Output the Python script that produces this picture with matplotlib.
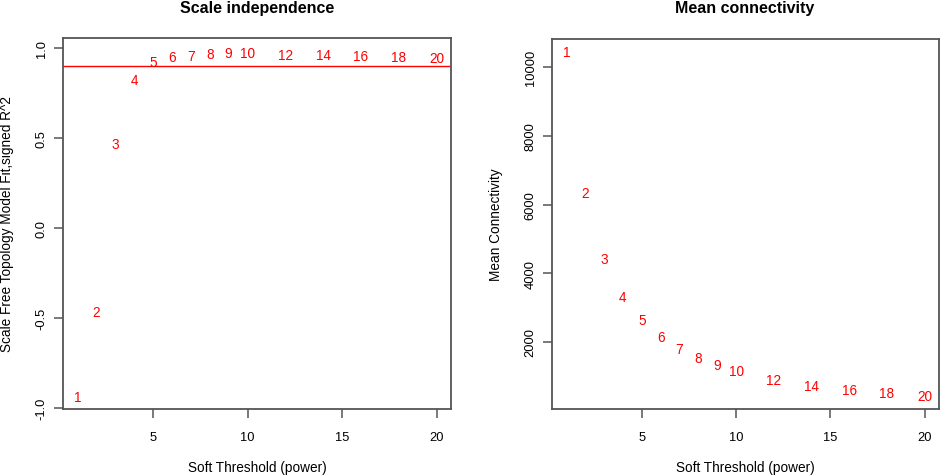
import matplotlib
matplotlib.use("Agg")
import matplotlib.pyplot as plt

plt.rcParams['font.family'] = ['Liberation Sans', 'DejaVu Sans']

powers = [1, 2, 3, 4, 5, 6, 7, 8, 9, 10, 12, 14, 16, 18, 20]
sft_r2 = [-0.939, -0.469, 0.463, 0.822, 0.919, 0.946, 0.954, 0.963, 0.971, 0.971,
          0.961, 0.959, 0.952, 0.948, 0.944]
mean_k = [10437, 6332, 4419, 3313, 2643, 2140, 1790, 1537, 1313, 1150,
          888, 722, 585, 498, 411]
r2_cut = 0.90

x_ticks = [5, 10, 15, 20]
r2_ticks = [-1.0, -0.5, 0.0, 0.5, 1.0]
k_ticks = [2000, 4000, 6000, 8000, 10000]

W, H = 941, 477
fig = plt.figure(figsize=(W / 100, H / 100), dpi=100)

spine_col = '#555555'
fs_tick = 9.3
fs_lab = 9.8
fs_pts = 9.8

def style(ax, yticks, ylim, ylabels):
    ax.set_xlim(0.24, 20.76)
    ax.set_ylim(*ylim)
    ax.set_xticks(x_ticks)
    ax.set_xticklabels([str(t) for t in x_ticks])
    ax.set_yticks(yticks)
    ax.set_yticklabels(ylabels, rotation=90, va='center')
    for s in ax.spines.values():
        s.set_color(spine_col)
        s.set_linewidth(1.3)
    ax.tick_params(direction='out', length=6.2, width=1.1, color=spine_col,
                   labelsize=fs_tick, labelcolor='black')
    ax.tick_params(axis='x', pad=9.6)
    ax.tick_params(axis='y', pad=4.8)

# Left panel
ax1 = fig.add_axes([63 / W, 1 - 410 / H, 388 / W, 371 / H])
style(ax1, r2_ticks, (-1.007, 1.054), ['-1.0', '-0.5', '0.0', '0.5', '1.0'])
for p, v in zip(powers, sft_r2):
    ax1.text(p, v, str(p), color='red', fontsize=fs_pts, ha='center', va='center')
ax1.axhline(r2_cut, color='red', linewidth=1.0)

# Right panel
ax2 = fig.add_axes([552 / W, 1 - 410 / H, 387 / W, 370 / H])
style(ax2, k_ticks, (44, 10824), [str(t) for t in k_ticks])
for p, v in zip(powers, mean_k):
    ax2.text(p, v, str(p), color='red', fontsize=fs_pts, ha='center', va='center')

# Titles and labels
fig.text(257 / W, 1 - 8 / H, 'Scale independence', fontsize=11.5, fontweight='bold',
         ha='center', va='center')
fig.text(745 / W, 1 - 8 / H, 'Mean connectivity', fontsize=11.5, fontweight='bold',
         ha='center', va='center')
fig.text(257 / W, 1 - 468 / H, 'Soft Threshold (power)', fontsize=fs_lab, ha='center', va='center')
fig.text(745 / W, 1 - 468 / H, 'Soft Threshold (power)', fontsize=fs_lab, ha='center', va='center')
fig.text(7 / W, 1 - 224.5 / H, 'Scale Free Topology Model Fit,signed R^2', fontsize=fs_lab,
         rotation=90, ha='center', va='center')
fig.text(496 / W, 1 - 224.5 / H, 'Mean Connectivity', fontsize=fs_lab,
         rotation=90, ha='center', va='center')

fig.savefig('out.png', dpi=100)
